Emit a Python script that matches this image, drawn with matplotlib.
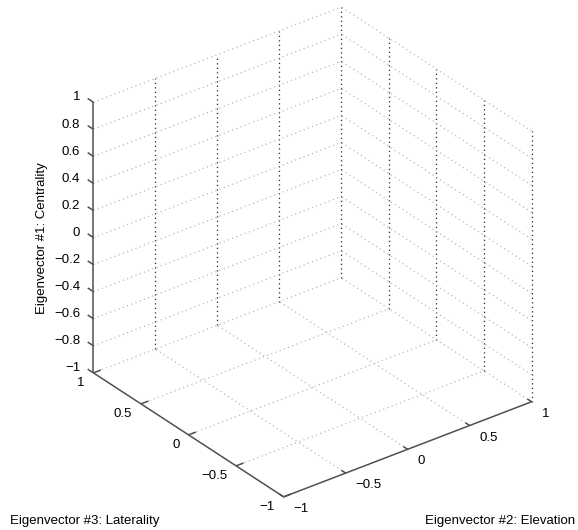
import numpy as np
import matplotlib

matplotlib.use("Agg")
import matplotlib.pyplot as plt
from mpl_toolkits.mplot3d import proj3d

plt.rcParams["font.family"] = ["Liberation Sans", "DejaVu Sans"]

# axis ticks (MATLAB-style empty 3-D axes)
elev_ticks = [-1, -0.5, 0, 0.5, 1]          # x: Eigenvector #2
lat_ticks = [-1, -0.5, 0, 0.5, 1]           # y: Eigenvector #3
cent_ticks = [-1, -0.8, -0.6, -0.4, -0.2, 0, 0.2, 0.4, 0.6, 0.8, 1]  # z: Eigenvector #1

x_label = "Eigenvector #2: Elevation"
y_label = "Eigenvector #3: Laterality"
z_label = "Eigenvector #1: Centrality"


def fmt(v):
    return f"{v:g}".replace("-", "\u2212")


fig = plt.figure(figsize=(5.78, 5.30), dpi=100)
ax = fig.add_axes([0.0738, 0.0154, 0.9092, 0.9915], projection="3d", proj_type="ortho")
ax.set_box_aspect((1, 1, 1))
ax.view_init(elev=30, azim=-127.5)
ax.set_xlim(-1, 1)
ax.set_ylim(-1, 1)
ax.set_zlim(-1, 1)
ax.set_axis_off()


def label3d(x, y, z, s, **kw):
    # place a flat 2-D text at the projected spot of a 3-D point
    px, py, _ = proj3d.proj_transform(x, y, z, ax.get_proj())
    ax.text2D(px, py, s, transform=ax.transData, **kw)


dark = dict(color="#2a2a2a", lw=0.9, ls=(0, (1, 2.6)))
light = dict(color="#b8b8b8", lw=0.9, ls=(0, (1, 2.6)))
axis_kw = dict(color="#505050", lw=1.1, solid_capstyle="butt")

# back wall y = 1
for x in elev_ticks[1:]:
    ax.plot([x, x], [1, 1], [-1, 1], **dark)
for z in cent_ticks[1:]:
    ax.plot([-1, 1], [1, 1], [z, z], **light)
# back wall x = 1
for y in lat_ticks[:-1]:
    ax.plot([1, 1], [y, y], [-1, 1], **dark)
for z in cent_ticks[1:]:
    ax.plot([1, 1], [-1, 1], [z, z], **light)
# floor z = -1
for x in elev_ticks[1:]:
    ax.plot([x, x], [-1, 1], [-1, -1], **light)
for y in lat_ticks[1:]:
    ax.plot([-1, 1], [y, y], [-1, -1], **light)

# axis lines
ax.plot([-1, 1], [-1, -1], [-1, -1], **axis_kw)
ax.plot([-1, -1], [-1, 1], [-1, -1], **axis_kw)
ax.plot([-1, -1], [1, 1], [-1, 1], **axis_kw)

fs = 9.5
for x in elev_ticks:
    ax.plot([x, x], [-1, -0.955], [-1, -1], **axis_kw)
    label3d(x, -1.106, -1.04, fmt(x), ha="left", va="center", fontsize=fs)
for y in lat_ticks:
    ax.plot([-1, -0.94], [y, y], [-1, -1], **axis_kw)
    label3d(-1.07, y, -1.05, fmt(y), ha="right", va="center", fontsize=fs)
for z in cent_ticks:
    ax.plot([-1, -1], [1, 1.06], [z, z], **axis_kw)
    label3d(-1.03, 1.1, z, fmt(z), ha="right", va="center", fontsize=fs)

fig.text(0.0735, 0.5509, z_label, rotation=90, ha="center", va="center", fontsize=fs)
fig.text(0.0173, 0.017, y_label, ha="left", va="center", fontsize=fs)
fig.text(0.9948, 0.017, x_label, ha="right", va="center", fontsize=fs)

fig.savefig("out.png", dpi=100)
